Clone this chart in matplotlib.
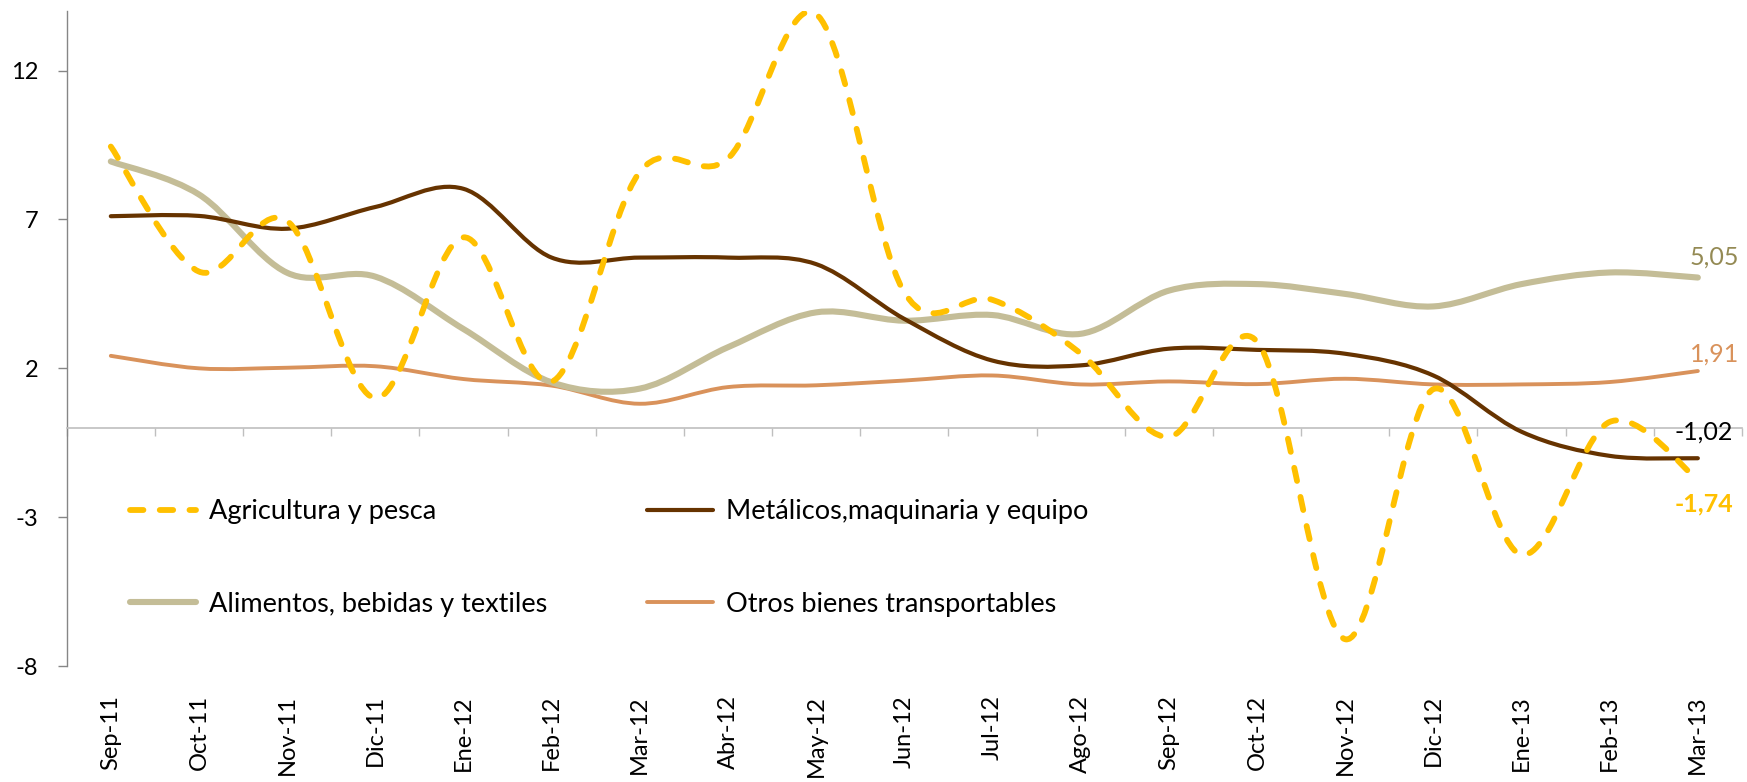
import numpy as np
import matplotlib
matplotlib.use("Agg")
import matplotlib.pyplot as plt
from matplotlib.path import Path
from matplotlib.patches import PathPatch
from matplotlib.lines import Line2D

plt.rcParams["font.family"] = ["Lato", "DejaVu Sans"]
plt.rcParams["axes.unicode_minus"] = False

meses = ["Sep-11", "Oct-11", "Nov-11", "Dic-11", "Ene-12", "Feb-12", "Mar-12",
         "Abr-12", "May-12", "Jun-12", "Jul-12", "Ago-12", "Sep-12", "Oct-12",
         "Nov-12", "Dic-12", "Ene-13", "Feb-13", "Mar-13"]

agricultura = [9.45, 5.25, 6.95, 1.0, 6.4, 1.55, 8.6, 9.05, 13.9, 4.55,
               4.3, 2.5, -0.3, 2.9, -7.1, 1.3, -4.26, 0.2, -1.74]
metalicos = [7.11, 7.12, 6.69, 7.42, 8.03, 5.72, 5.72, 5.72, 5.5, 3.66,
             2.26, 2.1, 2.66, 2.62, 2.49, 1.76, -0.13, -0.94, -1.02]
alimentos = [8.95, 7.84, 5.21, 5.08, 3.32, 1.53, 1.32, 2.71, 3.88, 3.6,
             3.79, 3.16, 4.61, 4.83, 4.5, 4.08, 4.83, 5.22, 5.05]
otros = [2.42, 2.0, 2.02, 2.07, 1.64, 1.42, 0.81, 1.37, 1.43, 1.59,
         1.76, 1.46, 1.56, 1.47, 1.65, 1.46, 1.46, 1.54, 1.91]


def smooth_path(values):
    """Cubic Bezier through every point (Excel-style smoothed line)."""
    y = np.asarray(values, dtype=float)
    pts = np.column_stack([np.arange(len(y), dtype=float), y])
    prev = np.vstack([pts[:1], pts[:-1]])
    nxt = np.vstack([pts[1:], pts[-1:]])
    tang = (nxt - prev) / 6.0
    verts = [pts[0]]
    codes = [Path.MOVETO]
    for i in range(len(pts) - 1):
        verts += [pts[i] + tang[i], pts[i + 1] - tang[i + 1], pts[i + 1]]
        codes += [Path.CURVE4] * 3
    return Path(verts, codes)


AMARILLO = "#FFC000"
CAFE = "#663300"
ARENA = "#C4BD97"
NARANJA = "#D9925B"
dash = (0, (2.3, 2.8))

# values, label, colour, width, style, z-order
series = [
    (otros, "Otros bienes transportables", NARANJA, 2.8, "-", 2),
    (alimentos, "Alimentos, bebidas y textiles", ARENA, 4.4, "-", 3),
    (metalicos, "Metálicos,maquinaria y equipo", CAFE, 3.0, "-", 4),
    (agricultura, "Agricultura y pesca", AMARILLO, 4.2, dash, 5),
]

fig = plt.figure(figsize=(17.47, 7.82), dpi=100)
ax = fig.add_axes([0.0382, 0.1483, 0.9589, 0.8375])

handles = {}
for vals, label, color, lw, ls, z in series:
    patch = PathPatch(smooth_path(vals), fill=False, edgecolor=color, lw=lw,
                      linestyle=ls, capstyle="round", joinstyle="round", zorder=z)
    ax.add_patch(patch)
    handles[label] = Line2D([], [], color=color, lw=lw, linestyle=ls,
                            dash_capstyle="round", solid_capstyle="round")

ax.set_xlim(-0.5, len(meses) - 0.5)
ax.set_ylim(-8, 14)
ax.set_yticks([-8, -3, 2, 7, 12])

# axis styling: grey y-axis, light zero line with ticks between categories
for side in ("top", "right"):
    ax.spines[side].set_visible(False)
ax.spines["left"].set_color("#868686")
ax.spines["left"].set_linewidth(1.0)
ax.spines["bottom"].set_position(("data", 0))
ax.spines["bottom"].set_color("#BFBFBF")
ax.spines["bottom"].set_linewidth(1.2)
ax.set_xticks([])
ax.set_xticks(np.arange(-0.5, len(meses), 1.0), minor=True)
ax.tick_params(axis="x", which="minor", direction="out", length=6,
               width=1.0, color="#BFBFBF", labelbottom=False)
ax.tick_params(axis="y", direction="out", length=6.5, width=1.0,
               color="#868686", pad=14, labelsize=17)

# month labels sit under the plot area, not on the zero line
sec = ax.secondary_xaxis("bottom")
sec.set_xticks(range(len(meses)), labels=meses, rotation=90)
sec.tick_params(length=0, pad=21, labelsize=17)
sec.spines["bottom"].set_visible(False)
for lab in sec.get_xticklabels():
    lab.set_verticalalignment("top")

# end-of-series values
last = len(meses) - 1
etiquetas = [
    (alimentos[-1], "#948A54", (12, 14.5), "normal"),
    (otros[-1], NARANJA, (12, 12.5), "normal"),
    (metalicos[-1], "black", (4.5, 19), "normal"),
    (agricultura[-1], AMARILLO, (4.5, -17.5), "bold"),
]
for val, color, off, weight in etiquetas:
    ax.annotate(f"{val:.2f}".replace(".", ","), xy=(last, val), xytext=off,
                textcoords="offset points", ha="center", va="center",
                fontsize=18, color=color, fontweight=weight, zorder=6)

order = ["Agricultura y pesca", "Alimentos, bebidas y textiles",
         "Metálicos,maquinaria y equipo", "Otros bienes transportables"]
fig.legend([handles[k] for k in order], order, ncol=2, loc="upper left",
           bbox_to_anchor=(130 / 1747, 1 - 499 / 782), frameon=False,
           fontsize=19.5, handlelength=2.45, handletextpad=0.45,
           columnspacing=3.7, labelspacing=2.5, borderpad=0, borderaxespad=0)

fig.savefig("out.png", dpi=100, facecolor="white")
